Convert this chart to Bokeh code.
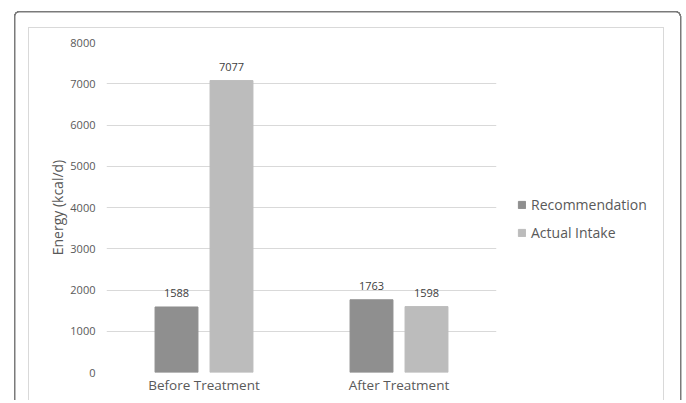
from bokeh.plotting import figure
from bokeh.models import (FactorRange, Range1d, ColumnDataSource, Legend, LegendItem,
                          FixedTicker)
from bokeh.transform import dodge
from bokeh.core.properties import value
from bokeh.embed import file_html
from bokeh.resources import INLINE

categories = ["Before Treatment", "After Treatment"]
recommendation = [1588, 1763]
actual_intake = [7077, 1598]
series_names = ["Recommendation", "Actual Intake"]
y_ticks = [0, 1000, 2000, 3000, 4000, 5000, 6000, 7000, 8000]

REC_COLOR = "#8f8f8f"
ACT_COLOR = "#bcbcbc"
TEXT = "#595959"
FONT = "Open Sans"

src = ColumnDataSource(dict(
    cat=categories,
    rec=recommendation,
    act=actual_intake,
    rec_lbl=[str(v) for v in recommendation],
    act_lbl=[str(v) for v in actual_intake],
))

# decorative chart-area frames drawn as CSS background lines behind a transparent canvas
DK = "#7a7a7a"
DARK = f"linear-gradient({DK},{DK})"
LIGHT = "linear-gradient(#d9d9d9,#d9d9d9)"
CORNER_TL = f"radial-gradient(circle at 5px 5px, transparent 3.4px, {DK} 3.6px, {DK} 4.9px, transparent 5.2px)"
CORNER_TR = f"radial-gradient(circle at 0px 5px, transparent 3.4px, {DK} 3.6px, {DK} 4.9px, transparent 5.2px)"
layers = [
    (CORNER_TL, "5px 5px", "14px 11px"),
    (CORNER_TR, "5px 5px", "676px 11px"),
    (DARK, "1.5px 420px", "14px 16px"),
    (DARK, "657px 1.5px", "19px 11px"),
    (DARK, "1.5px 420px", "679.5px 16px"),
    (LIGHT, "1px 420px", "28px 27px"),
    (LIGHT, "636px 1px", "28px 27px"),
    (LIGHT, "1px 420px", "663px 27px"),
]
frame_css = {
    "background-color": "white",
    "background-image": ", ".join(l[0] for l in layers),
    "background-size": ", ".join(l[1] for l in layers),
    "background-position": ", ".join(l[2] for l in layers),
    "background-repeat": "no-repeat",
}

p = figure(frame_width=390, frame_height=330, x_range=FactorRange(*categories),
           y_range=Range1d(0, 8000), output_backend="svg", toolbar_location=None,
           min_border_left=106, min_border_right=190, min_border_top=42,
           min_border_bottom=28, styles=frame_css)
p.outline_line_color = None
p.background_fill_color = None
p.border_fill_color = None

bw = 0.22
off = 0.141
r1 = p.vbar(x=dodge("cat", -off, range=p.x_range), top="rec", width=bw, source=src,
            fill_color=REC_COLOR, line_color=REC_COLOR)
r2 = p.vbar(x=dodge("cat", off, range=p.x_range), top="act", width=bw, source=src,
            fill_color=ACT_COLOR, line_color=ACT_COLOR)

p.text(x=dodge("cat", -off, range=p.x_range), y="rec", text="rec_lbl", source=src,
       text_align="center", text_baseline="alphabetic", y_offset=-14,
       text_font=value(FONT), text_font_size="11px", text_color="#404040")
p.text(x=dodge("cat", off, range=p.x_range), y="act", text="act_lbl", source=src,
       text_align="center", text_baseline="alphabetic", y_offset=-14,
       text_font=value(FONT), text_font_size="11px", text_color="#404040")

p.xgrid.grid_line_color = None
p.ygrid.grid_line_color = "#d9d9d9"
p.ygrid.grid_line_width = 1
p.yaxis.ticker = FixedTicker(ticks=y_ticks)

for ax in (p.xaxis, p.yaxis):
    ax.axis_line_color = None
    ax.major_tick_line_color = None
    ax.minor_tick_line_color = None
    ax.major_tick_out = 0
    ax.major_tick_in = 0
    ax.minor_tick_out = 0
    ax.minor_tick_in = 0
    ax.major_label_text_color = TEXT
    ax.major_label_text_font = FONT

p.yaxis.major_label_text_font_size = "11px"
p.yaxis.major_label_standoff = 11
p.yaxis.axis_label = "Energy (kcal/d)"
p.yaxis.axis_label_text_font = FONT
p.yaxis.axis_label_text_font_size = "14px"
p.yaxis.axis_label_text_font_style = "normal"
p.yaxis.axis_label_text_color = TEXT
p.yaxis.axis_label_standoff = 0

p.xaxis.major_label_text_font_size = "13.5px"
p.xaxis.major_label_standoff = 3

legend = Legend(items=[LegendItem(label=series_names[0], renderers=[r1]),
                       LegendItem(label=series_names[1], renderers=[r2])],
                location=(21, 130), glyph_width=9, glyph_height=9,
                label_standoff=5, label_height=20, spacing=8, padding=0,
                margin=0, border_line_color=None, background_fill_alpha=0,
                label_text_font=FONT, label_text_font_size="14px",
                label_text_color=TEXT)
p.add_layout(legend, "right")

open("out.html", "w").write(file_html(p, INLINE))
